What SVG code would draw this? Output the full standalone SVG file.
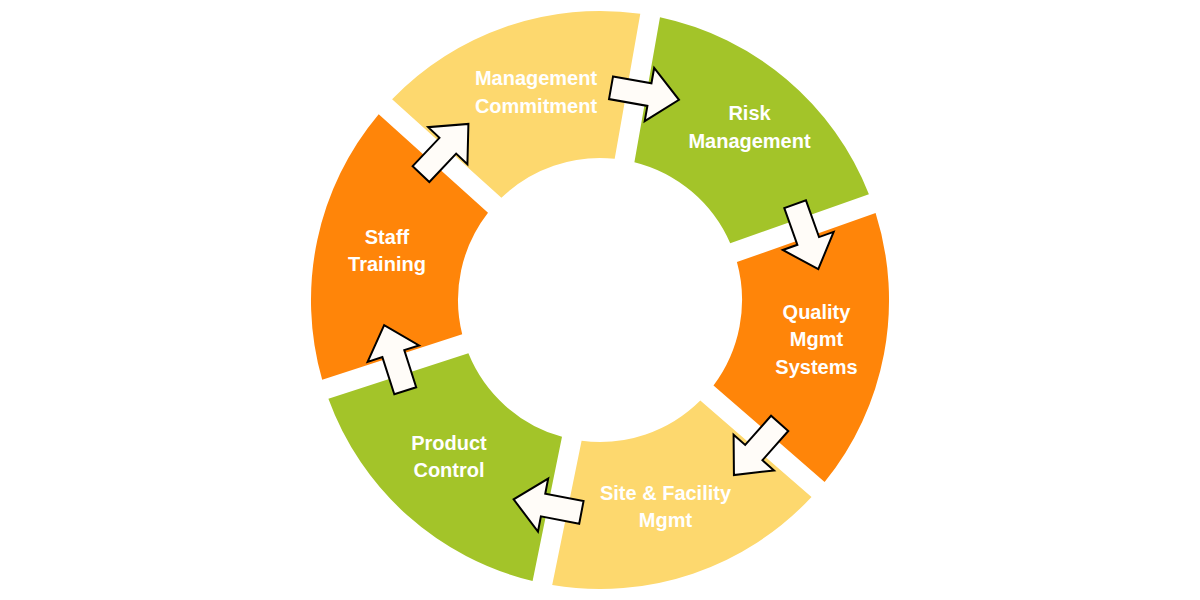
<svg xmlns="http://www.w3.org/2000/svg" width="1200" height="600" viewBox="0 0 1200 600">
<style>
.yel{fill:#FDD86E}
.grn{fill:#A3C429}
.org{fill:#FF8509}
.lbl{font-family:"Liberation Sans",Arial,sans-serif;font-weight:bold;font-size:20px;fill:#FFFFFF;text-anchor:middle}
.arw{fill:#FFFCF8;stroke:#000000;stroke-width:2;stroke-linejoin:miter}
</style>
<defs>
<polygon id="arrow" points="-34.5,-11.5 4.5,-11.5 4.5,-27 34.5,0 4.5,27 4.5,11.5 -34.5,11.5"/>
</defs>
<rect x="0" y="0" width="1200" height="600" fill="#FFFFFF"/>
<g id="node-management-commitment">
<path class="yel" d="M392.1,99.3 A289,289 0 0 1 640.3,13.8 L614.7,158.8 A142,142 0 0 0 501.4,197.8 Z"/>
<text class="lbl" x="536" y="85">Management</text>
<text class="lbl" x="536" y="112.5">Commitment</text>
</g>
<g id="node-risk-management">
<path class="grn" d="M660.0,17.3 A289,289 0 0 1 868.9,194.2 L730.2,243.3 A142,142 0 0 0 634.4,162.2 Z"/>
<text class="lbl" x="749.5" y="120">Risk</text>
<text class="lbl" x="749.5" y="148">Management</text>
</g>
<g id="node-quality-mgmt-systems">
<path class="org" d="M875.6,213.0 A289,289 0 0 1 824.6,482.0 L713.5,385.4 A142,142 0 0 0 736.9,262.1 Z"/>
<text class="lbl" x="816.5" y="318.5">Quality</text>
<text class="lbl" x="816.5" y="346">Mgmt</text>
<text class="lbl" x="816.5" y="373.5">Systems</text>
</g>
<g id="node-site-facility-mgmt">
<path class="yel" d="M811.5,497.0 A289,289 0 0 1 552.2,585.0 L581.6,440.8 A142,142 0 0 0 700.3,400.5 Z"/>
<text class="lbl" x="665.5" y="500">Site &amp; Facility</text>
<text class="lbl" x="665.5" y="527">Mgmt</text>
</g>
<g id="node-product-control">
<path class="grn" d="M532.6,581.0 A289,289 0 0 1 328.4,398.8 L468.4,353.3 A142,142 0 0 0 562.0,436.8 Z"/>
<text class="lbl" x="449" y="450">Product</text>
<text class="lbl" x="449" y="477">Control</text>
</g>
<g id="node-staff-training">
<path class="org" d="M322.2,379.8 A289,289 0 0 1 378.7,114.2 L488.0,212.7 A142,142 0 0 0 462.2,334.3 Z"/>
<text class="lbl" x="387" y="243.5">Staff</text>
<text class="lbl" x="387" y="271">Training</text>
</g>
<g id="connectors">
<use href="#arrow" class="arw" transform="translate(645,93.8) rotate(10.1)"/>
<use href="#arrow" class="arw" transform="translate(806.7,236.7) rotate(70.4)"/>
<use href="#arrow" class="arw" transform="translate(756.8,449.2) rotate(131.5)"/>
<use href="#arrow" class="arw" transform="translate(547.5,505.9) rotate(190.9)"/>
<use href="#arrow" class="arw" transform="translate(394.7,357.9) rotate(252.2)"/>
<use href="#arrow" class="arw" transform="translate(444.7,149) rotate(313.4)"/>
</g>
</svg>
